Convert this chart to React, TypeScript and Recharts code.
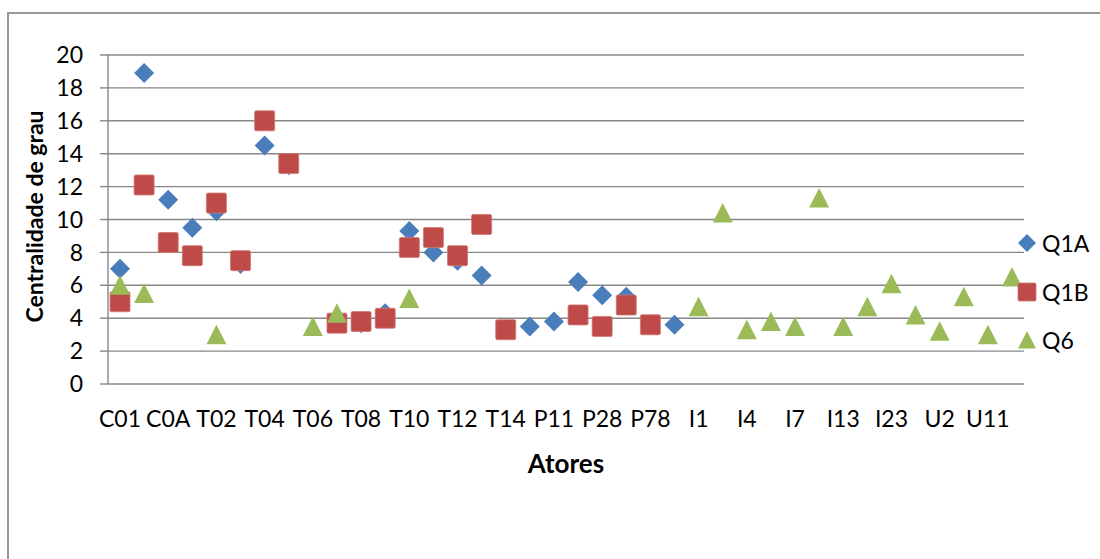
import { CartesianGrid, Label, Line, LineChart, XAxis, YAxis } from "recharts";

const ACTORS = [
  "C01", "C02", "C0A", "T01", "T02", "T03", "T04", "T05", "T06", "T07",
  "T08", "T09", "T10", "T11", "T12", "T13", "T14", "T15", "P11", "P23",
  "P28", "P45", "P78", "P90", "I1", "I3", "I4", "I6", "I7", "I10",
  "I13", "I18", "I23", "I30", "U2", "U7", "U11", "U14"
];

const Q1A = [
  7.0, 18.9, 11.2, 9.5, 10.5, 7.3, 14.5, 13.3, null, null,
  3.7, 4.3, 9.3, 8.0, 7.5, 6.6, null, 3.5, 3.8, 6.2,
  5.4, 5.3, null, 3.6, null, null, null, null, null, null,
  null, null, null, null, null, null, null, null
];

const Q1B = [
  5.0, 12.1, 8.6, 7.8, 11.0, 7.5, 16.0, 13.4, null, 3.7,
  3.8, 4.0, 8.3, 8.9, 7.8, 9.7, 3.3, null, null, 4.2,
  3.5, 4.8, 3.6, null, null, null, null, null, null, null,
  null, null, null, null, null, null, null, null
];

const Q6 = [
  6.0, 5.5, null, null, 3.0, null, null, null, 3.5, 4.3,
  null, null, 5.2, null, null, null, null, null, null, null,
  null, null, null, null, 4.7, 10.4, 3.3, 3.8, 3.5, 11.3,
  3.5, 4.7, 6.1, 4.2, 3.2, 5.3, 3.0, 6.5
];

const Y_TICKS = [0, 2, 4, 6, 8, 10, 12, 14, 16, 18, 20];

const SERIES = [
  { key: "Q1A", color: "#4A7EBB", shape: "diamond" },
  { key: "Q1B", color: "#BE4B48", shape: "square" },
  { key: "Q6", color: "#9BBB59", shape: "triangle" }
] as const;

const rows = ACTORS.map((name, i) => ({ name, Q1A: Q1A[i], Q1B: Q1B[i], Q6: Q6[i] }));

const FONT = "Lato, 'Open Sans', sans-serif";
const GRID = "#878787";

type Shape = (typeof SERIES)[number]["shape"];

function Marker({ shape, color, cx, cy, r = 10 }: { shape: Shape; color: string; cx: number; cy: number; r?: number }) {
  if (shape === "diamond") {
    return (
      <polygon
        points={`${cx},${cy - r} ${cx + r},${cy} ${cx},${cy + r} ${cx - r},${cy}`}
        fill={color}
      />
    );
  }
  if (shape === "square") {
    return (
      <rect x={cx - r} y={cy - r} width={r * 2} height={r * 2} rx={1.5} fill={color} stroke="#cf7775" strokeWidth={0.8} />
    );
  }
  return (
    <polygon
      points={`${cx},${cy - r} ${cx + r},${cy + r * 0.95} ${cx - r},${cy + r * 0.95}`}
      fill={color}
    />
  );
}

function makeDot(shape: Shape, color: string) {
  return (props: any) => {
    const { cx, cy, index, value } = props;
    if (value == null || cy == null || Number.isNaN(cy)) return <g key={`e-${shape}-${index}`} />;
    return (
      <g key={`d-${shape}-${index}`}>
        <Marker shape={shape} color={color} cx={cx} cy={cy} />
      </g>
    );
  };
}

export default function App() {
  return (
    <div
      style={{
        position: "fixed",
        left: 0,
        top: 0,
        width: 1100,
        height: 559,
        overflow: "hidden",
        background: "#fff",
        fontFamily: FONT
      }}
    >
      {/* chart frame, right and bottom edges fall outside the window */}
      <div
        style={{
          position: "absolute",
          left: 7,
          top: 12,
          width: 1200,
          height: 700,
          borderLeft: "2px solid #999",
          borderTop: "2px solid #999"
        }}
      />

      <div style={{ position: "absolute", left: 0, top: 0 }}>
        <LineChart width={1100} height={559} data={rows} margin={{ top: 55, right: 76, bottom: 135, left: 0 }}>
          <CartesianGrid vertical={false} stroke={GRID} strokeWidth={1.4} />
          <XAxis
            dataKey="name"
            scale="point"
            padding={{ left: 12, right: 12 }}
            interval={1}
            height={40}
            axisLine={false}
            tickLine={false}
            tickSize={8}
            tickMargin={19}
            tick={{ fontSize: 23, fill: "#000", fontFamily: FONT }}
          >
            <Label
              content={({ viewBox }: any) => (
                <text
                  x={viewBox.x + viewBox.width / 2}
                  y={viewBox.y + 89}
                  textAnchor="middle"
                  fontSize={26}
                  fontWeight={700}
                  fontFamily={FONT}
                  fill="#000"
                >
                  Atores
                </text>
              )}
            />
          </XAxis>
          <YAxis
            domain={[0, 20]}
            ticks={Y_TICKS}
            interval={0}
            width={108}
            axisLine={{ stroke: GRID, strokeWidth: 1.4 }}
            tickLine={{ stroke: GRID, strokeWidth: 1.4 }}
            tickSize={8}
            tickMargin={17}
            tick={{ fontSize: 23, fill: "#000", fontFamily: FONT }}
          >
            <Label
              content={({ viewBox }: any) => {
                const x = 34;
                const y = viewBox.y + viewBox.height / 2 - 3;
                return (
                  <text
                    x={x}
                    y={y}
                    transform={`rotate(-90 ${x} ${y})`}
                    textAnchor="middle"
                    dominantBaseline="central"
                    fontSize={23}
                    fontWeight={700}
                    fontFamily={FONT}
                    fill="#000"
                  >
                    Centralidade de grau
                  </text>
                );
              }}
            />
          </YAxis>
          {SERIES.map((s) => (
            <Line
              key={s.key}
              dataKey={s.key}
              stroke="none"
              strokeWidth={0}
              dot={makeDot(s.shape, s.color)}
              activeDot={false}
              isAnimationActive={false}
            />
          ))}
        </LineChart>
      </div>

      {SERIES.map((s, i) => (
        <div
          key={s.key}
          style={{
            position: "absolute",
            left: 1017,
            top: 243 + i * 48.5 - 13,
            height: 26,
            display: "flex",
            alignItems: "center",
            fontSize: 23,
            color: "#000"
          }}
        >
          <svg width={20} height={20} style={{ marginRight: 5 }}>
            <Marker shape={s.shape} color={s.color} cx={10} cy={10} r={9} />
          </svg>
          <span>{s.key}</span>
        </div>
      ))}
    </div>
  );
}
